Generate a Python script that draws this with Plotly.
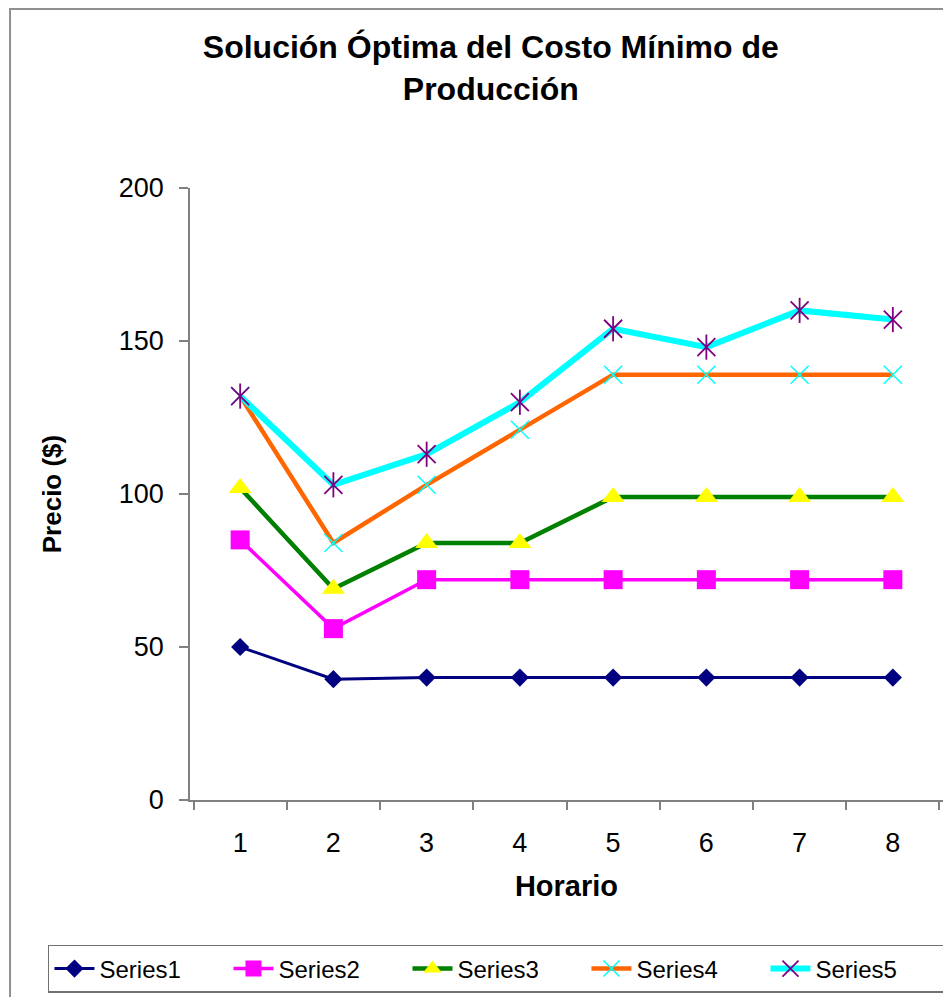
import plotly.graph_objects as go

# data
horario = ["1", "2", "3", "4", "5", "6", "7", "8"]
series1 = [50, 39.5, 40, 40, 40, 40, 40, 40]
series2 = [85, 56, 72, 72, 72, 72, 72, 72]
series3 = [102, 69, 84, 84, 99, 99, 99, 99]
series4 = [132, 84, 103, 121, 139, 139, 139, 139]
series5 = [132, 103, 113, 130, 154, 148, 160, 157]
y_ticks = [0, 50, 100, 150, 200]

FONT = "Liberation Sans, Arial, sans-serif"

fig = go.Figure()

fig.add_trace(go.Scatter(
    x=horario, y=series1, name="Series1", mode="lines+markers",
    line=dict(color="#000080", width=3),
    marker=dict(symbol="diamond", size=14, color="#000080"),
))
fig.add_trace(go.Scatter(
    x=horario, y=series2, name="Series2", mode="lines+markers",
    line=dict(color="#FF00FF", width=3.5),
    marker=dict(symbol="square", size=19, color="#FF00FF"),
))
fig.add_trace(go.Scatter(
    x=horario, y=series3, name="Series3", mode="lines+markers",
    line=dict(color="#008000", width=4.5),
    marker=dict(symbol="triangle-up", size=20, color="#FFFF00"),
))
fig.add_trace(go.Scatter(
    x=horario, y=series4, name="Series4", mode="lines+markers",
    line=dict(color="#FF6600", width=4.5),
    marker=dict(symbol="x-thin", size=18,
                line=dict(color="#00FFFF", width=1.5)),
))
fig.add_trace(go.Scatter(
    x=horario, y=series5, name="Series5", mode="lines+markers",
    line=dict(color="#00FFFF", width=6),
    marker=dict(symbol="x-thin", size=18,
                line=dict(color="#800080", width=1.8)),
    legendgroup="s5",
))
# vertical stroke of the excel star marker
fig.add_trace(go.Scatter(
    x=horario, y=series5, mode="markers", showlegend=False,
    marker=dict(symbol="line-ns", size=18,
                line=dict(color="#800080", width=1.8)),
    legendgroup="s5", hoverinfo="skip",
))

# page body has an 8px margin, so the figure is 8px smaller
fig.update_layout(
    width=943, height=989,
    margin=dict(l=182, r=8, t=180, b=197, autoexpand=False),
    paper_bgcolor="white", plot_bgcolor="white",
    font=dict(family=FONT, color="black"),
    title=dict(
        text="<b>Solución Óptima del Costo Mínimo de<br>Producción</b>",
        x=0.512, xref="container", xanchor="center",
        y=0.9494, yref="container", yanchor="middle",
        font=dict(size=32, family=FONT, color="black"),
    ),
    xaxis=dict(
        type="category", automargin=False,
        showline=True, linecolor="#808080", linewidth=1.5,
        ticks="outside", tickson="boundaries", ticklen=8,
        tickcolor="#808080", tickwidth=1.5,
        tickfont=dict(size=27), ticklabelstandoff=18,
        showgrid=False, zeroline=False,
        title=dict(text="<b>Horario</b>", font=dict(size=29), standoff=19),
    ),
    yaxis=dict(
        range=[0, 200], tickvals=y_ticks, automargin=False,
        showline=True, linecolor="#808080", linewidth=1.5,
        ticks="outside", ticklen=9, tickcolor="#808080", tickwidth=1.5,
        tickfont=dict(size=27), ticklabelstandoff=10,
        showgrid=False, zeroline=False,
        title=dict(text="<b>Precio ($)</b>", font=dict(size=26), standoff=50),
    ),
    legend=dict(
        orientation="h",
        x=-0.1886, xanchor="left", y=-0.2369, yanchor="top",
        font=dict(size=24),
        bordercolor="#707070", borderwidth=1.5,
        entrywidth=124, itemwidth=40,
        traceorder="normal",
    ),
    shapes=[dict(
        type="rect", xref="paper", yref="paper",
        x0=-0.239, x1=1.03, y0=-0.34, y1=1.2925,
        line=dict(color="#909090", width=2),
    )],
)

fig.write_html("out.html")
